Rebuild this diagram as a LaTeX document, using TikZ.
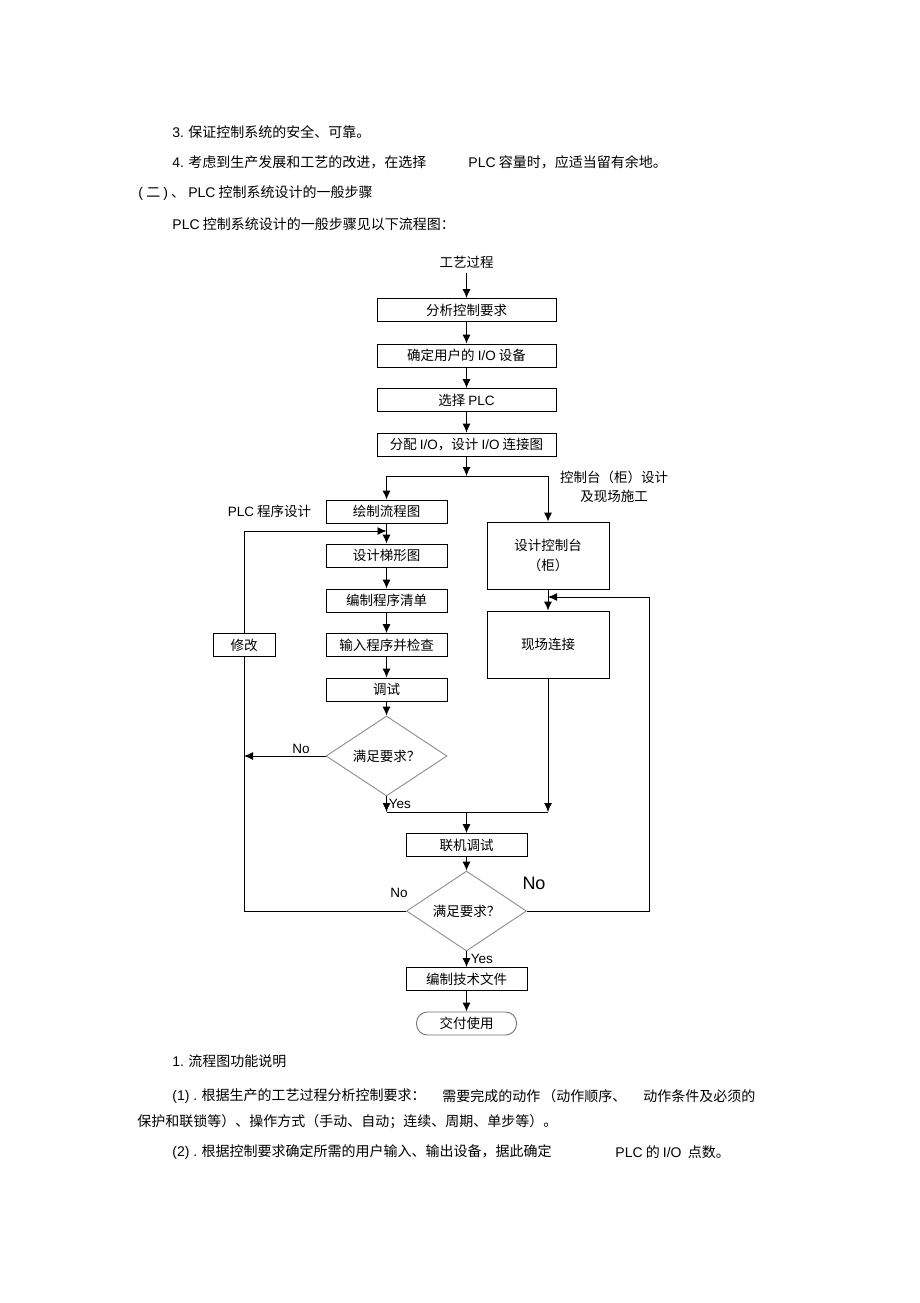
\documentclass[tikz,border=0pt]{standalone}
\usepackage{fontspec}
\setmainfont{Noto Sans CJK SC}
\newfontfamily\latfont{Liberation Sans}
\newcommand{\lat}[1]{{\latfont #1}}
\newcommand{\bodyfont}{\fontsize{14}{17}\selectfont}
\newcommand{\chartfont}{\fontsize{13.5}{20}\selectfont}
\usetikzlibrary{shapes.geometric,arrows.meta,positioning}

\begin{document}
\begin{tikzpicture}[x=1pt, y=-1pt, line width=0.9pt, >={Latex[length=9pt,width=8pt]},
  body/.style={anchor=west, inner sep=0pt, font=\bodyfont},
  lbl/.style={inner sep=1pt, font=\chartfont},
  yn/.style={inner sep=1pt, font=\latfont\fontsize{13.5}{16}\selectfont},
  box/.style={draw, minimum width=121pt, minimum height=23pt, inner sep=0pt, font=\chartfont},
  big/.style={box, minimum width=122pt, minimum height=67pt, align=center},
  dia/.style={diamond, draw=black!45, minimum width=121pt, minimum height=66pt, inner sep=0pt, font=\chartfont}]
\fill [white] (0,0) rectangle (920,1303);
\useasboundingbox (0,0) rectangle (920,1303);

\node (l3) at (172,132) [body] {\lat{3.} 保证控制系统的安全、可靠。};
\node (l4a) at (172,162) [body] {\lat{4.} 考虑到生产发展和工艺的改进，在选择};
\node (l4b) at (468,162) [body] {\lat{PLC} 容量时，应适当留有余地。};
\node (h2) at (138,193) [body] {\lat{(} 二 \lat{)} 、 \lat{PLC} 控制系统设计的一般步骤};
\node (intro) at (172,224) [body] {\lat{PLC} 控制系统设计的一般步骤见以下流程图：};

\node (gy) at (466.5,262) [lbl, inner sep=4pt] {工艺过程};
\node (fx) at (466.5,310) [box, minimum width=179pt] {分析控制要求};
\node (qd) at (466.5,355.5) [box, minimum width=179pt] {确定用户的 \lat{I/O} 设备};
\node (xz) at (466.5,400) [box, minimum width=179pt] {选择 \lat{PLC}};
\node (fp) at (466.5,444.5) [box, minimum width=179pt] {分配 \lat{I/O}，设计 \lat{I/O} 连接图};
\coordinate (sp) at (466.5,476);
\coordinate (spl) at (386.5,476);
\coordinate (spr) at (548,476);

\node (hz) at (386.5,511.5) [box] {绘制流程图};
\node (plcsj) at (hz.west) [lbl, left=13pt] {\lat{PLC} 程序设计};
\node (sj) at (386.5,555.5) [box] {设计梯形图};
\node (bz) at (386.5,600.5) [box] {编制程序清单};
\node (sr) at (386.5,645) [box] {输入程序并检查};
\node (ts) at (386.5,689.5) [box] {调试};
\node (mz1) at (386.5,756) [dia] {满足要求？};
\node (xg) at (244,645) [box, minimum width=62pt] {修改};
\coordinate (back) at (386.5,531);
\coordinate (xgin) at (244,756);

\node (kzt) at (614,486.5) [lbl, align=center, font=\fontsize{13.5}{19}\selectfont] {控制台（柜）设计\\及现场施工};
\node (sjk) at (548,555.5) [big] {设计控制台\\（柜）};
\node (xc) at (548,644.5) [big] {现场连接};
\coordinate (xcin) at (548,597);

\coordinate (hl) at (386.5,812);
\coordinate (hm) at (466.5,812);
\coordinate (hr) at (548,812);
\node (ljts) at (466.5,845) [box] {联机调试};
\node (mz2) at (466.5,911) [dia, minimum width=120pt, minimum height=65pt] {满足要求？};
\coordinate (rc) at (649,911);
\node (no2) at (399,893) [yn] {No};
\node (no3) at (534,883) [yn, font=\latfont\fontsize{18}{20}\selectfont] {No};
\node (bzjs) at (466.5,979) [box] {编制技术文件};
\node (jf) at (466.5,1023.5) [box, rounded corners=11pt, minimum width=100pt, draw=black!55] {交付使用};

\draw [->] (gy) -- (fx);
\draw [->] (fx) -- (qd);
\draw [->] (qd) -- (xz);
\draw [->] (xz) -- (fp);
\draw [->] (fp) -- (sp);
\draw (spl) -- (spr);
\draw [->] (spl) -- (hz);
\draw [->] (spr) -- (sjk);
\draw [->] (hz) -- (sj);
\draw [->] (sj) -- (bz);
\draw [->] (bz) -- (sr);
\draw [->] (sr) -- (ts);
\draw [->] (ts) -- (mz1);
\draw [->] (mz1) -- (xgin) node [pos=0.3, above=1pt, yn] {No};
\draw [->] (mz1) -- (hl) node [midway, right=1pt, yn] {Yes};
\draw [->] (sjk) -- (xc);
\draw [->] (xc) -- (hr);
\draw (hl) -- (hr);
\draw [->] (hm) -- (ljts);
\draw [->] (ljts) -- (mz2);
\draw (mz2.west) -| (xg.south);
\draw [->] (xg.north) |- (back);
\draw [->] (mz2.east) -- (rc) |- (xcin);
\draw [->] (mz2) -- (bzjs) node [midway, right=3pt, yn] {Yes};
\draw [->] (bzjs) -- (jf);

\node (fl) at (172,1061) [body] {\lat{1.} 流程图功能说明};
\node (p1a) at (172,1096) [body] {\lat{(1) .} 根据生产的工艺过程分析控制要求：};
\node (p1b) at (442,1096) [body] {需要完成的动作};
\node (p1c) at (542,1096) [body] {（动作顺序、};
\node (p1d) at (643,1096) [body] {动作条件及必须的};
\node (p1e) at (137,1122) [body] {保护和联锁等）、操作方式（手动、自动；连续、周期、单步等）。};
\node (p2a) at (172,1152) [body] {\lat{(2) .} 根据控制要求确定所需的用户输入、输出设备，据此确定};
\node (p2b) at (615,1152) [body] {\lat{PLC} 的 \lat{I/O} \ 点数。};
\end{tikzpicture}
\end{document}
